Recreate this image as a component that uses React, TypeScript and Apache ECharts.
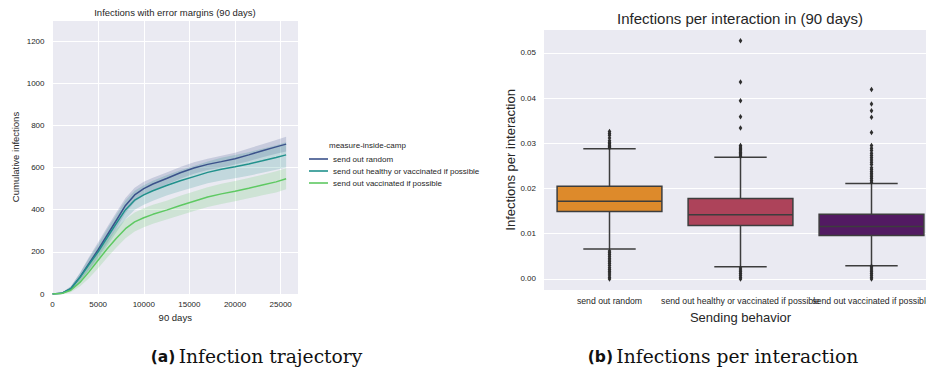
import React, { useEffect, useRef } from 'react';
import * as echarts from 'echarts';

// ---------- Left panel: infection trajectory ----------
const timeSteps = [0, 1000, 2000, 3000, 4000, 5000, 6000, 7000, 8000, 9000, 10000, 11000, 12500, 14000, 15500, 17000, 18500, 20000, 21500, 23000, 24500, 25600];
const randomMean = [0, 3, 25, 80, 145, 210, 280, 350, 420, 470, 500, 522, 548, 575, 598, 615, 628, 642, 660, 680, 698, 711];
const healthyMean = [0, 3, 25, 78, 140, 200, 268, 335, 400, 445, 470, 490, 515, 537, 557, 577, 592, 604, 617, 632, 648, 660];
const vaccinatedMean = [0, 2, 18, 55, 105, 160, 215, 265, 310, 342, 362, 378, 398, 420, 440, 460, 475, 488, 502, 517, 532, 547];
const randomMargin = [0, 3, 10, 20, 30, 35, 38, 38, 36, 34, 32, 30, 28, 28, 27, 27, 28, 28, 30, 31, 33, 35];
const healthyMargin = [0, 3, 10, 20, 30, 35, 40, 42, 44, 45, 46, 47, 48, 50, 50, 52, 54, 55, 56, 57, 58, 60];
const vaccinatedMargin = [0, 3, 10, 20, 30, 38, 42, 44, 45, 45, 45, 45, 45, 46, 46, 47, 48, 48, 48, 49, 50, 50];
const strategyNames = ['send out random', 'send out healthy or vaccinated if possible', 'send out vaccinated if possible'];
const lineColors = ['#3b528b', '#21918c', '#5ec962'];
const bandColors = ['rgba(59,82,139,0.2)', 'rgba(33,145,140,0.2)', 'rgba(94,201,98,0.2)'];

// ---------- Right panel: infections per interaction ----------
const behaviors = ['send out random', 'send out healthy or vaccinated if possible', 'send out vaccinated if possible'];
// [lower whisker, Q1, median, Q3, upper whisker]
const randomBox = [0.0066, 0.0149, 0.0172, 0.0205, 0.0288];
const healthyBox = [0.0027, 0.0118, 0.0142, 0.0178, 0.0269];
const vaccinatedBox = [0.0029, 0.0096, 0.0116, 0.0143, 0.0211];
const randomOutliers = [0.0000, 0.0004, 0.0009, 0.0013, 0.0017, 0.0021, 0.0025, 0.0030, 0.0034, 0.0038, 0.0042, 0.0046, 0.0050, 0.0054, 0.0058, 0.0062, 0.0290, 0.0293, 0.0296, 0.0299, 0.0302, 0.0306, 0.0312, 0.0318, 0.0322, 0.0326];
const healthyOutliers = [0.0000, 0.0004, 0.0008, 0.0012, 0.0016, 0.0020, 0.0024, 0.0271, 0.0274, 0.0277, 0.0280, 0.0283, 0.0286, 0.0289, 0.0292, 0.0295, 0.0334, 0.0359, 0.0394, 0.0436, 0.0527];
const vaccinatedOutliers = [0.0000, 0.0004, 0.0008, 0.0012, 0.0016, 0.0020, 0.0024, 0.0028, 0.0214, 0.0218, 0.0222, 0.0226, 0.0230, 0.0234, 0.0238, 0.0242, 0.0246, 0.0253, 0.0258, 0.0263, 0.0268, 0.0273, 0.0278, 0.0284, 0.0289, 0.0295, 0.0324, 0.0358, 0.0372, 0.0387, 0.0419];
const boxColors = ['#dd8a2b', '#ad435a', '#521a62'];

const FONT = 'Liberation Sans';
const TXT = '#262626';
const EDGE = '#3d3d3d';

export default function App() {
  const ref = useRef<HTMLDivElement>(null);
  useEffect(() => {
    if (!ref.current) return;
    const chart = echarts.init(ref.current, undefined, { renderer: 'svg' });

    const means = [randomMean, healthyMean, vaccinatedMean];
    const margins = [randomMargin, healthyMargin, vaccinatedMargin];

    const bandSeries = means.map((m, i) => ({
      type: 'custom', xAxisIndex: 0, yAxisIndex: 0, silent: true,
      encode: { x: 0, y: [1, 2] },
      data: timeSteps.map((t, k) => [t, m[k] - margins[i][k], m[k] + margins[i][k]]),
      renderItem: (params: any, api: any) => {
        if (params.dataIndex !== 0) return null;
        const upper = timeSteps.map((t, k) => api.coord([t, m[k] + margins[i][k]]));
        const lower = timeSteps.map((t, k) => api.coord([t, m[k] - margins[i][k]])).reverse();
        return {
          type: 'polygon',
          shape: { points: [...upper, ...lower] },
          style: { fill: bandColors[i], stroke: 'none' },
        };
      },
    }));

    const lineSeries = means.map((m, i) => ({
      name: strategyNames[i], type: 'line', xAxisIndex: 0, yAxisIndex: 0,
      showSymbol: false, symbol: 'none', color: lineColors[i],
      lineStyle: { color: lineColors[i], width: 1.5 },
      data: timeSteps.map((t, k) => [t, m[k]]),
    }));

    const boxes = [randomBox, healthyBox, vaccinatedBox];
    const outlierSets = [randomOutliers, healthyOutliers, vaccinatedOutliers];
    const outlierData: number[][] = [];
    outlierSets.forEach((set, i) => set.forEach((v) => outlierData.push([i, v])));

    const boxSeries = {
      type: 'custom', xAxisIndex: 1, yAxisIndex: 1, silent: true,
      encode: { x: 0, y: [1, 2, 3, 4, 5] },
      data: boxes.map((b, i) => [i, ...b]),
      renderItem: (params: any, api: any) => {
        const idx = api.value(0);
        const band = api.size([1, 0])[0];
        const bw = band * 0.8;
        const capW = bw * 0.5;
        const pMin = api.coord([idx, api.value(1)]);
        const pQ1 = api.coord([idx, api.value(2)]);
        const pMed = api.coord([idx, api.value(3)]);
        const pQ3 = api.coord([idx, api.value(4)]);
        const pMax = api.coord([idx, api.value(5)]);
        const cx = pMed[0];
        const ls = { stroke: EDGE, lineWidth: 1.5 };
        return {
          type: 'group',
          children: [
            { type: 'line', shape: { x1: cx, y1: pQ3[1], x2: cx, y2: pMax[1] }, style: ls },
            { type: 'line', shape: { x1: cx, y1: pQ1[1], x2: cx, y2: pMin[1] }, style: ls },
            { type: 'line', shape: { x1: cx - capW / 2, y1: pMax[1], x2: cx + capW / 2, y2: pMax[1] }, style: ls },
            { type: 'line', shape: { x1: cx - capW / 2, y1: pMin[1], x2: cx + capW / 2, y2: pMin[1] }, style: ls },
            { type: 'rect', shape: { x: cx - bw / 2, y: pQ3[1], width: bw, height: pQ1[1] - pQ3[1] }, style: { fill: boxColors[idx], stroke: EDGE, lineWidth: 1.5 } },
            { type: 'line', shape: { x1: cx - bw / 2, y1: pMed[1], x2: cx + bw / 2, y2: pMed[1] }, style: ls },
          ],
        };
      },
    };

    const outlierSeries = {
      type: 'scatter', xAxisIndex: 1, yAxisIndex: 1, silent: true,
      symbol: 'diamond', symbolSize: [3.6, 5.5],
      itemStyle: { color: '#2e2e2e', opacity: 1 },
      data: outlierData, z: 5,
    };

    const captionRich = {
      b: { fontFamily: 'DejaVu Sans', fontWeight: 'bold', fontSize: 15.5, fill: '#111' },
      r: { fontFamily: 'DejaVu Serif', fontSize: 18.7, fill: '#111' },
    };

    const option: any = {
      animation: false,
      backgroundColor: '#ffffff',
      textStyle: { fontFamily: FONT },
      grid: [
        { left: 52.5, top: 20, width: 245.5, height: 274, show: true, backgroundColor: '#eaeaf2', borderWidth: 0, containLabel: false, outerBoundsMode: 'none' },
        { left: 544, top: 29, width: 393, height: 261.7, show: true, backgroundColor: '#eaeaf2', borderWidth: 0, containLabel: false, outerBoundsMode: 'none' },
      ],
      xAxis: [
        {
          type: 'value', gridIndex: 0, min: 0, max: 26900, interval: 5000,
          name: '90 days', nameLocation: 'middle', nameGap: 17,
          nameTextStyle: { fontSize: 9.5, color: TXT, fontFamily: FONT },
          axisLine: { show: false }, axisTick: { show: false },
          axisLabel: { fontSize: 8, color: TXT, margin: 6, showMaxLabel: false, fontFamily: FONT, formatter: (v: number) => String(v) },
          splitLine: { show: true, lineStyle: { color: '#ffffff', width: 1 } },
        },
        {
          type: 'category', gridIndex: 1, data: behaviors, boundaryGap: true,
          name: 'Sending behavior', nameLocation: 'middle', nameGap: 16,
          nameTextStyle: { fontSize: 13, color: TXT, fontFamily: FONT },
          axisLine: { show: false }, axisTick: { show: false },
          axisLabel: { interval: 0, fontSize: 8.7, color: TXT, margin: 6, fontFamily: FONT },
          splitLine: { show: false },
        },
      ],
      yAxis: [
        {
          type: 'value', gridIndex: 0, min: 0, max: 1300, interval: 200,
          name: 'Cumulative infections', nameLocation: 'middle', nameGap: 32,
          nameTextStyle: { fontSize: 9.5, color: TXT, fontFamily: FONT },
          axisLine: { show: false }, axisTick: { show: false },
          axisLabel: { fontSize: 8, color: TXT, margin: 8, showMaxLabel: false, fontFamily: FONT, formatter: (v: number) => String(v) },
          splitLine: { show: true, lineStyle: { color: '#ffffff', width: 1 } },
        },
        {
          type: 'value', gridIndex: 1, min: -0.0026, max: 0.0553,
          name: 'Infections per interaction', nameLocation: 'middle', nameGap: 27,
          nameTextStyle: { fontSize: 13, color: TXT, fontFamily: FONT },
          axisLine: { show: false }, axisTick: { show: false },
          axisLabel: {
            fontSize: 8, color: TXT, margin: 8, showMaxLabel: false, showMinLabel: false, fontFamily: FONT,
            formatter: (v: number) => v.toFixed(2),
          },
          splitLine: { show: true, lineStyle: { color: '#ffffff', width: 1 } },
        },
      ],
      legend: {
        data: strategyNames, orient: 'vertical', left: 304, top: 149.5,
        icon: 'rect', itemWidth: 19, itemHeight: 1.6, itemGap: 3,
        textStyle: { fontSize: 8, color: TXT, lineHeight: 9, fontFamily: FONT },
        selectedMode: false,
      },
      graphic: [
        { type: 'text', left: 329, top: 141, style: { text: 'measure-inside-camp', fontSize: 8, fill: TXT, fontFamily: FONT } },
        { type: 'text', x: 175, y: 12, style: { text: 'Infections with error margins (90 days)', fontSize: 9.5, fill: TXT, fontFamily: FONT, textAlign: 'center', textVerticalAlign: 'middle' } },
        { type: 'text', x: 740, y: 18, style: { text: 'Infections per interaction in (90 days)', fontSize: 15, fill: TXT, fontFamily: FONT, textAlign: 'center', textVerticalAlign: 'middle' } },
        {
          type: 'text', x: 256.5, y: 356.5,
          style: { text: '{b|(a)} {r|Infection trajectory}', textAlign: 'center', textVerticalAlign: 'middle', rich: captionRich },
        },
        {
          type: 'text', x: 723, y: 356.5,
          style: { text: '{b|(b)} {r|Infections per interaction}', textAlign: 'center', textVerticalAlign: 'middle', rich: captionRich },
        },
      ],
      series: [...bandSeries, ...lineSeries, boxSeries, outlierSeries],
    };
    chart.setOption(option);
    return () => chart.dispose();
  }, []);
  return <div ref={ref} style={{ position: 'fixed', left: 0, top: 0, width: 926, height: 372, background: '#fff' }} />;
}
